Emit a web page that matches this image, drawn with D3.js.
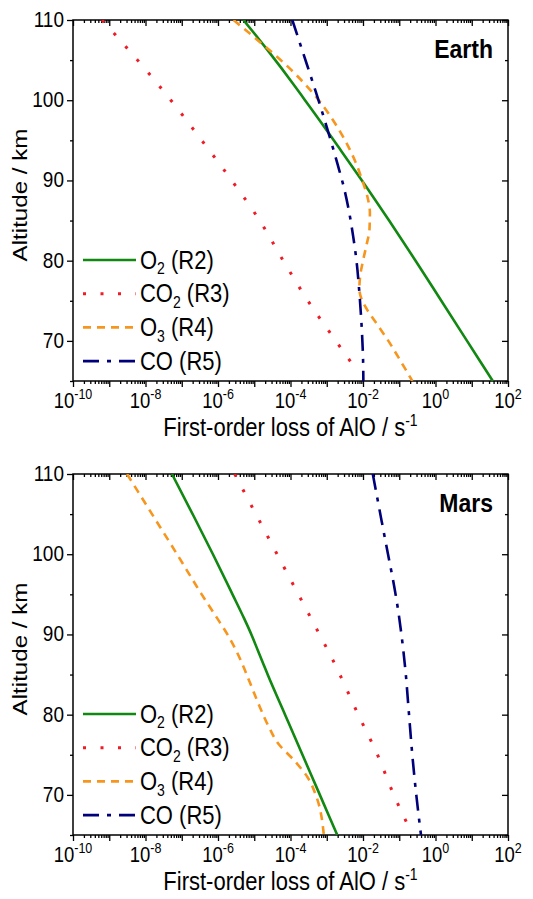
<!DOCTYPE html>
<html>
<head>
<meta charset="utf-8">
<script src="https://d3js.org/d3.v7.min.js"></script>
<style>
  body { margin: 0; background: #fff; }
  text { font-family: "Liberation Sans", Arial, sans-serif; fill: #000; }
</style>
</head>
<body>
<script>
// values: altitude in km, loss rate as log10(s^-1)
const earthO2Alt = [110, 108, 106, 104, 102, 100, 97, 94, 90, 85, 80, 75, 70, 65];
const earthO2Log = [-5.3, -4.94, -4.59, -4.25, -3.92, -3.6, -3.12, -2.65, -2.03, -1.28, -0.55, 0.16, 0.87, 1.58];
const earthCO2Alt = [110, 105, 100, 95, 90, 85, 80, 75, 70, 66.5];
const earthCO2Log = [-9.2, -8.22, -7.3, -6.45, -5.62, -4.85, -4.2, -3.52, -2.75, -2.2];
const earthO3Alt = [110, 108, 106, 104, 102, 100, 98, 96, 94, 92, 90, 88, 86, 84, 82, 80, 78, 76.5, 75, 74, 72, 70, 68, 65];
const earthO3Log = [-5.57, -5.04, -4.52, -4.03, -3.6, -3.22, -2.9, -2.62, -2.38, -2.18, -2.02, -1.88, -1.81, -1.82, -1.9, -2.0, -2.08, -2.1, -2.02, -1.9, -1.6, -1.3, -1.03, -0.64];
const earthCOAlt = [110, 106, 102, 98, 95, 92, 89, 86, 83, 80, 76, 72, 68, 65];
const earthCOLog = [-3.95, -3.66, -3.37, -3.09, -2.89, -2.7, -2.52, -2.38, -2.27, -2.18, -2.1, -2.04, -2.0, -1.99];

const marsO2Alt = [110, 105, 100, 95, 92, 90, 88, 86, 85, 80, 75, 70, 65];
const marsO2Log = [-7.27, -6.7, -6.14, -5.6, -5.28, -5.08, -4.9, -4.72, -4.63, -4.15, -3.67, -3.19, -2.71];
const marsCO2Alt = [110, 100, 90, 86.7, 85, 80, 75, 70, 65];
const marsCO2Log = [-5.54, -4.37, -3.2, -2.82, -2.64, -2.13, -1.6, -1.15, -0.63];
const marsO3Alt = [110, 105, 100, 95, 92, 90, 88, 86, 84, 81, 78.5, 76.4, 74.3, 72.2, 69.7, 65];
const marsO3Log = [-8.51, -7.82, -7.13, -6.45, -6.02, -5.74, -5.5, -5.3, -5.12, -4.85, -4.6, -4.34, -3.9, -3.53, -3.28, -3.08];
const marsCOAlt = [110, 104, 100, 96, 93, 90, 86, 80, 75, 70, 65];
const marsCOLog = [-1.73, -1.48, -1.31, -1.14, -1.03, -0.94, -0.84, -0.73, -0.64, -0.53, -0.4];

const legendBase = ["O", "CO", "O", "CO"];
const legendSub = ["2", "2", "3", ""];
const legendTail = [" (R2)", " (R3)", " (R4)", " (R5)"];
const xLabelExp = [-10, -8, -6, -4, -2, 0, 2];
const yTickVals = [70, 80, 90, 100, 110];
const yMinorVals = [65, 75, 85, 95, 105];

const colors = ["#118811", "#ee1c25", "#f7961e", "#00007a"];
const dashes = [null, "3 14.5", "8 6", "16 8 4 8"];

const WIDTH = 533, HEIGHT = 899;
const SY = 1.15; // letters in the picture are a little taller than wide

const svg = d3.select("body").append("svg")
    .attr("width", WIDTH)
    .attr("height", HEIGHT);

const left = 73, right = 508, plotH = 361;
const x = d3.scaleLog().domain([1e-10, 1e2]).range([left, right]);

const majorX = d3.range(-10, 3).map(e => Math.pow(10, e));
const minorX = [];
d3.range(-10, 2).forEach(e => {
    for (let k = 2; k <= 9; k++) minorX.push(k * Math.pow(10, e));
});

function addText(g, px, py, size, anchor, weight) {
    return g.append("text")
        .attr("transform", "translate(" + px + "," + py + ") scale(1," + SY + ")")
        .attr("text-anchor", anchor)
        .style("font-size", size + "px")
        .style("font-weight", weight || "normal");
}

function tickAxis(g, axis) {
    g.call(axis);
    g.select(".domain").remove();
    g.selectAll("line").attr("stroke", "#000").attr("stroke-width", 1.3);
}

function drawPanel(top, name, series, id) {
    const bottom = top + plotH;
    const y = d3.scaleLinear().domain([65, 110]).range([bottom, top]);
    const g = svg.append("g").attr("id", id);

    g.append("clipPath").attr("id", "clip-" + id)
        .append("rect")
        .attr("x", left).attr("y", top)
        .attr("width", right - left).attr("height", plotH);

    // ticks: out on bottom/left, in on top/right
    tickAxis(g.append("g").attr("transform", "translate(0," + bottom + ")"),
        d3.axisBottom(x).tickValues(majorX).tickSize(6).tickFormat(""));
    tickAxis(g.append("g").attr("transform", "translate(0," + bottom + ")"),
        d3.axisBottom(x).tickValues(minorX).tickSize(3).tickFormat(""));
    tickAxis(g.append("g").attr("transform", "translate(0," + top + ")"),
        d3.axisBottom(x).tickValues(majorX).tickSize(6).tickFormat(""));
    tickAxis(g.append("g").attr("transform", "translate(0," + top + ")"),
        d3.axisBottom(x).tickValues(minorX).tickSize(3).tickFormat(""));
    tickAxis(g.append("g").attr("transform", "translate(" + left + ",0)"),
        d3.axisLeft(y).tickValues(yTickVals).tickSize(6).tickFormat(""));
    tickAxis(g.append("g").attr("transform", "translate(" + left + ",0)"),
        d3.axisLeft(y).tickValues(yMinorVals).tickSize(3).tickFormat(""));
    tickAxis(g.append("g").attr("transform", "translate(" + right + ",0)"),
        d3.axisLeft(y).tickValues(yTickVals).tickSize(6).tickFormat(""));
    tickAxis(g.append("g").attr("transform", "translate(" + right + ",0)"),
        d3.axisLeft(y).tickValues(yMinorVals).tickSize(3).tickFormat(""));

    g.append("rect")
        .attr("x", left).attr("y", top)
        .attr("width", right - left).attr("height", plotH)
        .attr("fill", "none").attr("stroke", "#000").attr("stroke-width", 1.5);

    // tick labels
    xLabelExp.forEach(e => {
        const t = addText(g, x(Math.pow(10, e)), bottom + 27, 18.5, "middle");
        t.append("tspan").text("10");
        t.append("tspan").attr("dy", -8).style("font-size", "12.5px").text(e < 0 ? "-" + (-e) : e);
    });
    yTickVals.forEach(v => {
        addText(g, left - 9, y(v) + 7, 19, "end").text(v);
    });

    // axis titles
    const xt = addText(g, (left + right) / 2, bottom + 55, 22, "middle");
    xt.append("tspan").text("First-order loss of AlO / s");
    xt.append("tspan").attr("dy", -9).style("font-size", "14px").text("-1");

    g.append("text")
        .attr("transform", "translate(27," + (top + 175) + ") rotate(-90) scale(" + SY + ",1)")
        .attr("text-anchor", "middle")
        .style("font-size", "21px")
        .text("Altitude / km");

    addText(g, 493, top + 38, 23, "end", "bold").text(name);

    // curves
    const line = d3.line()
        .x(d => x(Math.pow(10, d[1])))
        .y(d => y(d[0]))
        .curve(d3.curveMonotoneY);

    const plot = g.append("g").attr("clip-path", "url(#clip-" + id + ")");
    series.forEach((s, i) => {
        const pts = d3.zip(s[0], s[1]);
        plot.append("path")
            .datum(pts)
            .attr("d", line)
            .attr("fill", "none")
            .attr("stroke", colors[i])
            .attr("stroke-width", i === 1 ? 3 : 2.6)
            .attr("stroke-dasharray", dashes[i]);
    });

    // legend
    legendBase.forEach((b, i) => {
        const ly = top + 240 + i * 33.7;
        g.append("line")
            .attr("x1", 83).attr("x2", 136)
            .attr("y1", ly).attr("y2", ly)
            .attr("stroke", colors[i])
            .attr("stroke-width", i === 1 ? 3 : 2.6)
            .attr("stroke-dasharray", dashes[i]);
        const t = addText(g, 140, ly + 8.5, 22, "start");
        t.append("tspan").text(b);
        if (legendSub[i]) {
            t.append("tspan").attr("dy", 5).style("font-size", "14px").text(legendSub[i]);
            t.append("tspan").attr("dy", -5).text(legendTail[i]);
        } else {
            t.append("tspan").text(legendTail[i]);
        }
    });
}

drawPanel(20, "Earth", [
    [earthO2Alt, earthO2Log],
    [earthCO2Alt, earthCO2Log],
    [earthO3Alt, earthO3Log],
    [earthCOAlt, earthCOLog]
], "earth");

drawPanel(474, "Mars", [
    [marsO2Alt, marsO2Log],
    [marsCO2Alt, marsCO2Log],
    [marsO3Alt, marsO3Log],
    [marsCOAlt, marsCOLog]
], "mars");
</script>
</body>
</html>
